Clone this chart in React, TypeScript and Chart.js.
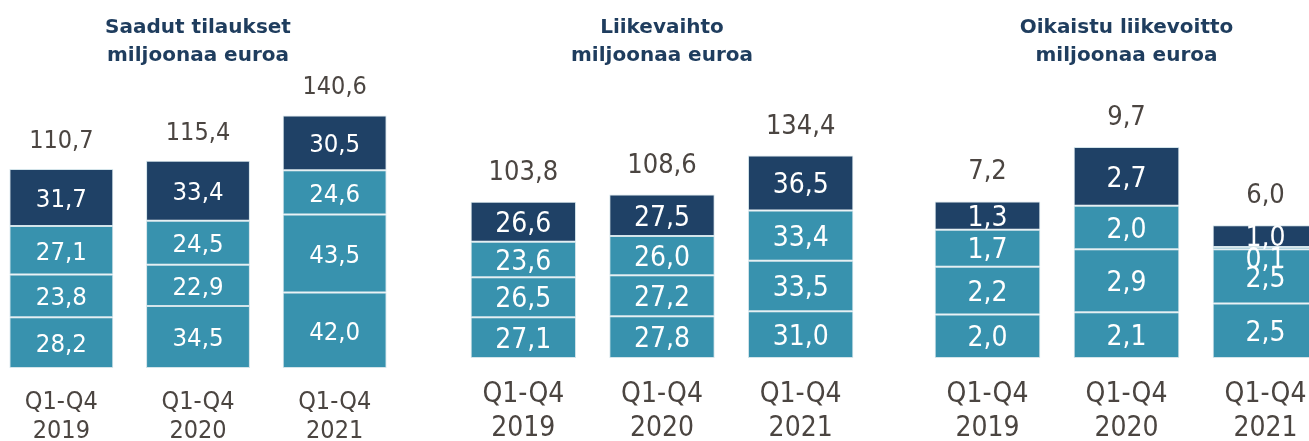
import React, { useEffect, useRef } from 'react';
import { Chart, registerables } from 'chart.js';

Chart.register(...registerables);

// ---------- data ----------
const categories = [
  ['Q1-Q4', '2019'],
  ['Q1-Q4', '2020'],
  ['Q1-Q4', '2021'],
];
const quarterNames = ['Q1', 'Q2', 'Q3', 'Q4'];

const ordersQ1 = [28.2, 34.5, 42.0];
const ordersQ2 = [23.8, 22.9, 43.5];
const ordersQ3 = [27.1, 24.5, 24.6];
const ordersQ4 = [31.7, 33.4, 30.5];
const ordersTotals = [110.7, 115.4, 140.6];

const revenueQ1 = [27.1, 27.8, 31.0];
const revenueQ2 = [26.5, 27.2, 33.5];
const revenueQ3 = [23.6, 26.0, 33.4];
const revenueQ4 = [26.6, 27.5, 36.5];
const revenueTotals = [103.8, 108.6, 134.4];

const ebitQ1 = [2.0, 2.1, 2.5];
const ebitQ2 = [2.2, 2.9, 2.5];
const ebitQ3 = [1.7, 2.0, 0.1];
const ebitQ4 = [1.3, 2.7, 1.0];
const ebitTotals = [7.2, 9.7, 6.0];

const titles = [
  ['Saadut tilaukset', 'miljoonaa euroa'],
  ['Liikevaihto', 'miljoonaa euroa'],
  ['Oikaistu liikevoitto', 'miljoonaa euroa'],
];

// ---------- styles ----------
const TEAL = '#3892ae';
const NAVY = '#1f4166';
const SEP = '#d3e4ea';
const GREY = '#4b4541';
const TITLE_COLOR = '#1f3d5e';
const FONT = "'DejaVu Sans Condensed', 'DejaVu Sans', sans-serif";
const TITLE_FONT = "'DejaVu Sans', sans-serif";

const fmt = (v: number) => v.toFixed(1).replace('.', ',');

const labelsPlugin = {
  id: 'barLabels',
  afterDatasetsDraw(chart: any, _args: any, opts: any) {
    const { ctx } = chart;
    const n = chart.data.datasets.length;
    ctx.save();
    ctx.textAlign = 'center';
    ctx.textBaseline = 'alphabetic';
    ctx.font = `${opts.valueSize}px ${FONT}`;
    ctx.fillStyle = '#ffffff';
    chart.data.datasets.forEach((ds: any, di: number) => {
      const meta = chart.getDatasetMeta(di);
      meta.data.forEach((bar: any, i: number) => {
        const v = ds.data[i] as number;
        const { x, y, base } = bar.getProps(['x', 'y', 'base'], true);
        const cy = (y + base) / 2;
        let yy = cy + opts.valueSize * 0.364;
        if (Math.abs(base - y) < opts.valueSize * 0.5) yy += opts.smallShift;
        ctx.fillText(fmt(v), x, yy);
      });
    });
    ctx.font = `${opts.totalSize}px ${FONT}`;
    ctx.fillStyle = GREY;
    const topMeta = chart.getDatasetMeta(n - 1);
    topMeta.data.forEach((bar: any, i: number) => {
      const { x, y } = bar.getProps(['x', 'y'], true);
      ctx.fillText(fmt(opts.totals[i]), x, y - opts.totalGap);
    });
    ctx.restore();
  },
};

type Panel = {
  title: string[];
  series: number[][];
  totals: number[];
  left: number;
  width: number;
  height: number;
  yMax: number;
  tickSize: number;
  tickLine: number;
  tickPad: number;
  valueSize: number;
  totalSize: number;
  totalGap: number;
};

const panels: Panel[] = [
  {
    title: titles[0],
    series: [ordersQ1, ordersQ2, ordersQ3, ordersQ4],
    totals: ordersTotals,
    left: -7,
    width: 410,
    height: 466,
    yMax: 160.3,
    tickSize: 25,
    tickLine: 29 / 25,
    tickPad: 20,
    valueSize: 25.5,
    totalSize: 25,
    totalGap: 21,
  },
  {
    title: titles[1],
    series: [revenueQ1, revenueQ2, revenueQ3, revenueQ4],
    totals: revenueTotals,
    left: 454,
    width: 416,
    height: 465,
    yMax: 184.6,
    tickSize: 28,
    tickLine: 33.5 / 28,
    tickPad: 20,
    valueSize: 28,
    totalSize: 27,
    totalGap: 22,
  },
  {
    title: titles[2],
    series: [ebitQ1, ebitQ2, ebitQ3, ebitQ4],
    totals: ebitTotals,
    left: 918,
    width: 417,
    height: 465,
    yMax: 12.78,
    tickSize: 28,
    tickLine: 33.5 / 28,
    tickPad: 20,
    valueSize: 28,
    totalSize: 27,
    totalGap: 22,
  },
];

function PanelChart({ p }: { p: Panel }) {
  const ref = useRef<HTMLCanvasElement>(null);
  useEffect(() => {
    if (!ref.current) return;
    const chart = new Chart(ref.current, {
      type: 'bar',
      data: {
        labels: categories,
        datasets: p.series.map((s, i) => ({
          label: quarterNames[i],
          data: s,
          backgroundColor: i === 3 ? NAVY : TEAL,
          borderColor: SEP,
          borderWidth: 1,
          borderSkipped: false,
          barPercentage: 0.76,
          categoryPercentage: 1,
        })),
      },
      options: {
        responsive: false,
        animation: false,
        devicePixelRatio: 1,
        layout: { padding: 0 },
        events: [],
        scales: {
          x: {
            stacked: true,
            grid: { display: false, drawTicks: false },
            border: { display: false },
            ticks: {
              color: GREY,
              padding: p.tickPad,
              font: { family: FONT, size: p.tickSize, lineHeight: p.tickLine },
            },
          },
          y: {
            stacked: true,
            display: false,
            min: 0,
            max: p.yMax,
          },
        },
        plugins: {
          legend: { display: false },
          tooltip: { enabled: false },
          title: {
            display: true,
            text: p.title,
            color: TITLE_COLOR,
            font: { family: TITLE_FONT, weight: 'bold', size: 20, lineHeight: 28 / 20 },
            padding: { top: 14, bottom: 10 },
          },
          barLabels: {
            totals: p.totals,
            valueSize: p.valueSize,
            totalSize: p.totalSize,
            totalGap: p.totalGap,
            smallShift: 10,
          },
        } as any,
      },
      plugins: [labelsPlugin],
    });
    return () => chart.destroy();
  }, [p]);
  return (
    <canvas
      ref={ref}
      width={p.width}
      height={p.height}
      style={{ position: 'absolute', left: p.left, top: 0, width: p.width, height: p.height }}
    />
  );
}

export default function App() {
  return (
    <div
      style={{
        position: 'absolute',
        left: 0,
        top: 0,
        width: 1309,
        height: 441,
        overflow: 'hidden',
        background: '#ffffff',
      }}
    >
      {panels.map((p, i) => (
        <PanelChart key={i} p={p} />
      ))}
    </div>
  );
}
